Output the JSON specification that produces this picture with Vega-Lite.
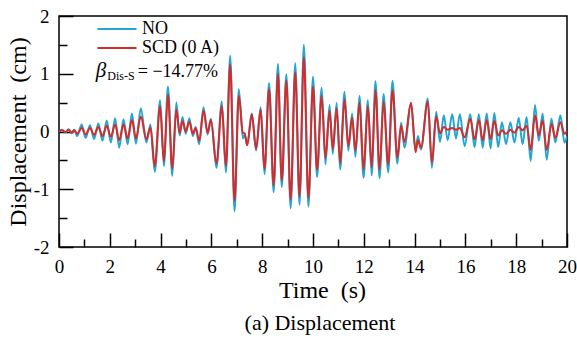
{
  "$schema": "https://vega.github.io/schema/vega-lite/v6.json",
  "width": 508,
  "height": 231,
  "autosize": {"type": "none"},
  "padding": {"left": 59, "top": 16, "right": 10, "bottom": 91},
  "background": "white",
  "config": {
    "view": {"stroke": "black", "strokeWidth": 1.5},
    "font": "Liberation Serif",
    "axis": {
      "grid": false,
      "ticks": true,
      "zindex": 1,
      "domain": false,
      "tickColor": "black",
      "tickWidth": 1.5,
      "labelColor": "black",
      "labelFont": "Liberation Serif",
      "labelFontSize": 19,
      "titleFont": "Liberation Serif",
      "titleFontSize": 24,
      "titleFontWeight": "normal",
      "titleColor": "black"
    }
  },
  "title": {
    "text": "(a) Displacement",
    "orient": "bottom",
    "font": "Liberation Serif",
    "fontSize": 22,
    "fontWeight": "normal",
    "color": "black",
    "offset": 11,
    "dx": 7
  },
  "data": {
    "values": [
      {"t":0.00,"NO":0.00,"SCD (0 A)":0.00},
      {"t":0.12,"NO":0.03,"SCD (0 A)":0.02},
      {"t":0.25,"NO":-0.02,"SCD (0 A)":-0.01},
      {"t":0.38,"NO":0.04,"SCD (0 A)":0.03},
      {"t":0.50,"NO":-0.03,"SCD (0 A)":-0.02},
      {"t":0.60,"NO":0.03,"SCD (0 A)":0.02},
      {"t":0.72,"NO":-0.08,"SCD (0 A)":-0.04},
      {"t":0.89,"NO":0.12,"SCD (0 A)":0.06},
      {"t":1.05,"NO":-0.11,"SCD (0 A)":-0.05},
      {"t":1.22,"NO":0.11,"SCD (0 A)":0.06},
      {"t":1.38,"NO":-0.13,"SCD (0 A)":-0.06},
      {"t":1.55,"NO":0.14,"SCD (0 A)":0.08},
      {"t":1.71,"NO":-0.16,"SCD (0 A)":-0.08},
      {"t":1.88,"NO":0.19,"SCD (0 A)":0.10},
      {"t":2.04,"NO":-0.19,"SCD (0 A)":-0.09},
      {"t":2.21,"NO":0.23,"SCD (0 A)":0.12},
      {"t":2.37,"NO":-0.28,"SCD (0 A)":-0.15},
      {"t":2.54,"NO":0.21,"SCD (0 A)":0.12},
      {"t":2.70,"NO":-0.22,"SCD (0 A)":-0.12},
      {"t":2.87,"NO":0.31,"SCD (0 A)":0.20},
      {"t":3.03,"NO":-0.21,"SCD (0 A)":-0.12},
      {"t":3.22,"NO":0.40,"SCD (0 A)":0.26},
      {"t":3.44,"NO":-0.19,"SCD (0 A)":-0.13},
      {"t":3.60,"NO":0.12,"SCD (0 A)":0.07},
      {"t":3.77,"NO":-0.70,"SCD (0 A)":-0.60},
      {"t":3.98,"NO":0.54,"SCD (0 A)":0.44},
      {"t":4.13,"NO":-0.60,"SCD (0 A)":-0.52},
      {"t":4.29,"NO":0.78,"SCD (0 A)":0.64},
      {"t":4.46,"NO":-0.77,"SCD (0 A)":-0.64},
      {"t":4.62,"NO":0.50,"SCD (0 A)":0.38},
      {"t":4.75,"NO":-0.07,"SCD (0 A)":-0.03},
      {"t":4.86,"NO":0.25,"SCD (0 A)":0.18},
      {"t":4.99,"NO":-0.04,"SCD (0 A)":0.00},
      {"t":5.13,"NO":0.23,"SCD (0 A)":0.17},
      {"t":5.27,"NO":-0.08,"SCD (0 A)":-0.04},
      {"t":5.38,"NO":0.08,"SCD (0 A)":0.06},
      {"t":5.52,"NO":-0.22,"SCD (0 A)":-0.16},
      {"t":5.69,"NO":0.42,"SCD (0 A)":0.36},
      {"t":5.85,"NO":-0.05,"SCD (0 A)":-0.02},
      {"t":5.98,"NO":0.22,"SCD (0 A)":0.20},
      {"t":6.20,"NO":-0.63,"SCD (0 A)":-0.55},
      {"t":6.41,"NO":0.52,"SCD (0 A)":0.44},
      {"t":6.57,"NO":-0.71,"SCD (0 A)":-0.60},
      {"t":6.74,"NO":1.31,"SCD (0 A)":1.16},
      {"t":6.91,"NO":-1.38,"SCD (0 A)":-1.20},
      {"t":7.08,"NO":0.73,"SCD (0 A)":0.62},
      {"t":7.24,"NO":-0.12,"SCD (0 A)":-0.02},
      {"t":7.31,"NO":-0.06,"SCD (0 A)":-0.03},
      {"t":7.41,"NO":-0.23,"SCD (0 A)":-0.24},
      {"t":7.59,"NO":0.31,"SCD (0 A)":0.30},
      {"t":7.76,"NO":-0.33,"SCD (0 A)":-0.30},
      {"t":7.94,"NO":0.42,"SCD (0 A)":0.38},
      {"t":8.09,"NO":-0.74,"SCD (0 A)":-0.65},
      {"t":8.27,"NO":0.84,"SCD (0 A)":0.73},
      {"t":8.45,"NO":-1.05,"SCD (0 A)":-0.93},
      {"t":8.62,"NO":1.17,"SCD (0 A)":1.00},
      {"t":8.77,"NO":-0.96,"SCD (0 A)":-0.85},
      {"t":8.95,"NO":0.99,"SCD (0 A)":0.88},
      {"t":9.12,"NO":-1.33,"SCD (0 A)":-1.18},
      {"t":9.30,"NO":1.18,"SCD (0 A)":1.02},
      {"t":9.47,"NO":-1.27,"SCD (0 A)":-1.12},
      {"t":9.64,"NO":1.50,"SCD (0 A)":1.28},
      {"t":9.82,"NO":-1.30,"SCD (0 A)":-1.15},
      {"t":10.00,"NO":0.95,"SCD (0 A)":0.78},
      {"t":10.16,"NO":-0.79,"SCD (0 A)":-0.66},
      {"t":10.34,"NO":0.76,"SCD (0 A)":0.62},
      {"t":10.49,"NO":-0.57,"SCD (0 A)":-0.46},
      {"t":10.65,"NO":0.46,"SCD (0 A)":0.36},
      {"t":10.78,"NO":-0.39,"SCD (0 A)":-0.30},
      {"t":10.93,"NO":0.50,"SCD (0 A)":0.40},
      {"t":11.07,"NO":-0.66,"SCD (0 A)":-0.55},
      {"t":11.24,"NO":0.69,"SCD (0 A)":0.56},
      {"t":11.39,"NO":-0.33,"SCD (0 A)":-0.25},
      {"t":11.54,"NO":0.31,"SCD (0 A)":0.24},
      {"t":11.67,"NO":-0.44,"SCD (0 A)":-0.33},
      {"t":11.83,"NO":0.62,"SCD (0 A)":0.50},
      {"t":11.99,"NO":-0.80,"SCD (0 A)":-0.66},
      {"t":12.16,"NO":0.54,"SCD (0 A)":0.44},
      {"t":12.31,"NO":-0.76,"SCD (0 A)":-0.62},
      {"t":12.46,"NO":0.87,"SCD (0 A)":0.72},
      {"t":12.62,"NO":-0.81,"SCD (0 A)":-0.66},
      {"t":12.78,"NO":0.65,"SCD (0 A)":0.52},
      {"t":12.96,"NO":-0.71,"SCD (0 A)":-0.57},
      {"t":13.13,"NO":0.88,"SCD (0 A)":0.72},
      {"t":13.32,"NO":-0.56,"SCD (0 A)":-0.45},
      {"t":13.47,"NO":0.15,"SCD (0 A)":0.10},
      {"t":13.60,"NO":-0.28,"SCD (0 A)":-0.18},
      {"t":13.86,"NO":0.49,"SCD (0 A)":0.50},
      {"t":14.04,"NO":-0.33,"SCD (0 A)":-0.36},
      {"t":14.13,"NO":-0.08,"SCD (0 A)":-0.15},
      {"t":14.25,"NO":-0.31,"SCD (0 A)":-0.28},
      {"t":14.52,"NO":0.57,"SCD (0 A)":0.52},
      {"t":14.68,"NO":-0.63,"SCD (0 A)":-0.54},
      {"t":14.85,"NO":0.34,"SCD (0 A)":0.26},
      {"t":15.00,"NO":-0.18,"SCD (0 A)":-0.03},
      {"t":15.15,"NO":0.28,"SCD (0 A)":0.08},
      {"t":15.30,"NO":-0.15,"SCD (0 A)":0.03},
      {"t":15.48,"NO":0.30,"SCD (0 A)":0.06},
      {"t":15.63,"NO":-0.12,"SCD (0 A)":0.03},
      {"t":15.78,"NO":0.30,"SCD (0 A)":0.06},
      {"t":15.97,"NO":-0.25,"SCD (0 A)":-0.10},
      {"t":16.19,"NO":0.30,"SCD (0 A)":0.22},
      {"t":16.36,"NO":-0.27,"SCD (0 A)":-0.14},
      {"t":16.53,"NO":0.30,"SCD (0 A)":0.20},
      {"t":16.68,"NO":-0.28,"SCD (0 A)":-0.15},
      {"t":16.84,"NO":0.31,"SCD (0 A)":0.20},
      {"t":16.99,"NO":-0.29,"SCD (0 A)":-0.13},
      {"t":17.14,"NO":0.32,"SCD (0 A)":0.18},
      {"t":17.29,"NO":-0.27,"SCD (0 A)":-0.07},
      {"t":17.44,"NO":0.16,"SCD (0 A)":0.02},
      {"t":17.60,"NO":-0.22,"SCD (0 A)":-0.04},
      {"t":17.77,"NO":0.16,"SCD (0 A)":0.03},
      {"t":17.93,"NO":-0.19,"SCD (0 A)":-0.02},
      {"t":18.10,"NO":0.24,"SCD (0 A)":0.08},
      {"t":18.25,"NO":-0.22,"SCD (0 A)":0.02},
      {"t":18.41,"NO":0.25,"SCD (0 A)":0.10},
      {"t":18.57,"NO":-0.51,"SCD (0 A)":-0.32},
      {"t":18.74,"NO":0.46,"SCD (0 A)":0.28},
      {"t":18.89,"NO":-0.16,"SCD (0 A)":-0.07},
      {"t":19.04,"NO":0.31,"SCD (0 A)":0.19},
      {"t":19.20,"NO":-0.49,"SCD (0 A)":-0.32},
      {"t":19.39,"NO":0.22,"SCD (0 A)":0.13},
      {"t":19.54,"NO":-0.19,"SCD (0 A)":-0.11},
      {"t":19.74,"NO":0.28,"SCD (0 A)":0.16},
      {"t":19.90,"NO":-0.19,"SCD (0 A)":-0.04},
      {"t":20.00,"NO":-0.08,"SCD (0 A)":0.01}
    ]
  },
  "layer": [
    {
      "transform": [{"fold": ["NO", "SCD (0 A)"], "as": ["series", "v"]}],
      "mark": {"type": "line", "interpolate": "monotone", "strokeWidth": 2, "clip": true},
      "encoding": {
        "x": {
          "field": "t", "type": "quantitative",
          "scale": {"domain": [0, 20], "nice": false},
          "axis": {"orient": "bottom", "values": [0,2,4,6,8,10,12,14,16,18,20], "offset": -14, "tickSize": 14, "labelPadding": 10, "title": "Time\u00a0\u00a0(s)", "titlePadding": 2, "titleX": 263, "labelFlush": false, "labelExpr": "'' + datum.value"}
        },
        "y": {
          "field": "v", "type": "quantitative",
          "scale": {"domain": [-2, 2], "nice": false, "zero": false},
          "axis": {"orient": "left", "values": [-2,-1,0,1,2], "offset": -14, "tickSize": 14, "labelPadding": 10, "title": "Displacement\u00a0\u00a0(cm)", "titlePadding": 3, "labelExpr": "'' + datum.value"}
        },
        "color": {
          "field": "series", "type": "nominal",
          "scale": {"domain": ["NO", "SCD (0 A)"], "range": ["#25A6D0", "#D42B2B"]},
          "legend": {
            "title": null, "orient": "none", "legendX": 49, "legendY": 4,
            "symbolType": "M-3,0H3", "symbolSize": 169, "symbolStrokeWidth": 2, "symbolFillColor": "transparent",
            "labelFont": "Liberation Serif", "labelFontSize": 18, "labelColor": "black",
            "labelOffset": 16, "rowPadding": 1, "padding": 0
          }
        }
      }
    },
    {
      "data": {"values": [{}]},
      "mark": {"type": "text", "font": "Liberation Serif", "fontSize": 21, "fontStyle": "italic", "align": "left", "baseline": "alphabetic", "color": "black"},
      "encoding": {
        "x": {"datum": 1.45, "type": "quantitative", "axis": {"orient": "bottom", "values": [1,3,5,7,9,11,13,15,17,19], "offset": -8, "tickSize": 8, "labels": false, "title": null}},
        "y": {"datum": 0.95, "type": "quantitative", "axis": {"orient": "left", "values": [-1.5,-0.5,0.5,1.5], "offset": -8, "tickSize": 8, "labels": false, "title": null}},
        "text": {"value": "β"}
      }
    },
    {
      "data": {"values": [{}]},
      "mark": {"type": "text", "font": "Liberation Serif", "fontSize": 12, "align": "left", "baseline": "alphabetic", "color": "black"},
      "encoding": {
        "x": {"datum": 1.9, "type": "quantitative", "axis": null},
        "y": {"datum": 0.89, "type": "quantitative", "axis": null},
        "text": {"value": "Dis-S"}
      }
    },
    {
      "data": {"values": [{}]},
      "mark": {"type": "text", "font": "Liberation Serif", "fontSize": 18, "align": "left", "baseline": "alphabetic", "color": "black"},
      "encoding": {
        "x": {"datum": 3.1, "type": "quantitative", "axis": null},
        "y": {"datum": 0.95, "type": "quantitative", "axis": null},
        "text": {"value": "= −14.77%"}
      }
    }
  ],
  "resolve": {"axis": {"x": "independent", "y": "independent"}}
}
